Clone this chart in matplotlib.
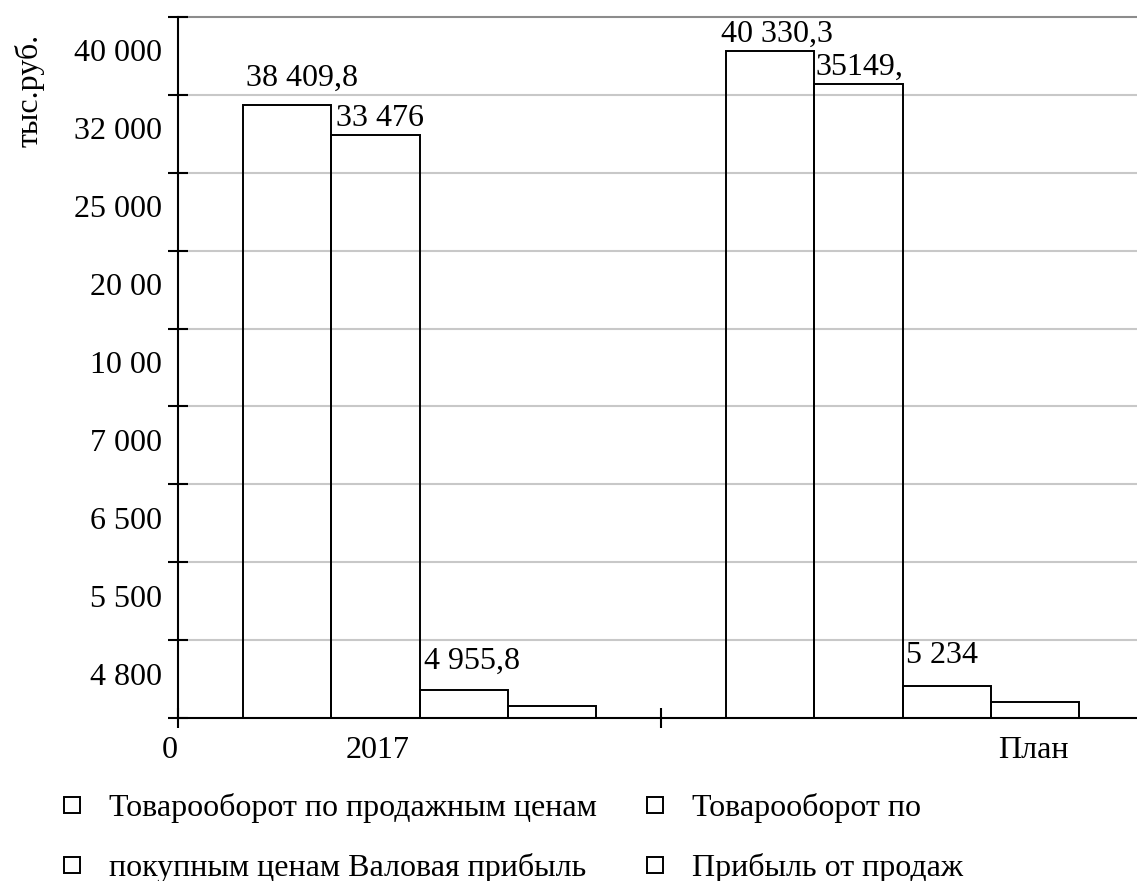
import matplotlib
matplotlib.use("Agg")
import matplotlib.pyplot as plt
from matplotlib.lines import Line2D
import numpy as np

plt.rcParams['font.family'] = ['Liberation Serif', 'DejaVu Serif']
plt.rcParams['font.size'] = 23

# ---- data ----
categories = ["2017", "План"]
series_names = [
    "Товарооборот по продажным ценам",
    "Товарооборот по",
    "покупным ценам Валовая прибыль",
    "Прибыль от продаж",
]
# bar heights in grid bands of the value axis (one band per axis label)
heights_2017 = [7.87, 7.48, 0.36, 0.154]
heights_plan = [8.56, 8.14, 0.41, 0.205]
value_labels_2017 = ["38 409,8", "33 476", "4 955,8", ""]
value_labels_plan = ["40 330,3", "35149,", "5 234", ""]
y_tick_labels = ["4 800", "5 500", "6 500", "7 000", "10 00",
                 "20 00", "25 000", "32 000", "40 000"]

# ---- layout helpers ----
PX = 72 / 100  # points per pixel at dpi=100
label_dx_px = [[3, 5, 4], [-5, 1, 4]]
label_dy_px = [[19, 9, 21], [9, 9, 23]]       # baseline above bar top
cat_label_dx_px = [-41.5, 130.5]

fig = plt.figure(figsize=(11.37, 8.81), dpi=100)
W, H = 1137, 881
ax = fig.add_axes([178 / W, 1 - 718 / H, 966 / W, 701 / H])

n_series = len(series_names)
bar_w = 0.1832
x = np.arange(len(categories))
heights = [heights_2017, heights_plan]
labels = [value_labels_2017, value_labels_plan]

for s in range(n_series):
    xs = x + (s - (n_series - 1) / 2) * bar_w
    ax.bar(xs, [heights[c][s] for c in range(len(categories))], width=bar_w,
           facecolor='none', edgecolor='black', linewidth=1.4, zorder=3)

for c in range(len(categories)):
    for s in range(n_series):
        txt = labels[c][s]
        if not txt:
            continue
        left = x[c] + (s - (n_series - 1) / 2) * bar_w - bar_w / 2
        ax.annotate(txt, xy=(left, heights[c][s]),
                    xytext=(label_dx_px[c][s] * PX, label_dy_px[c][s] * PX),
                    textcoords='offset points', ha='left', va='baseline')

n_bands = len(y_tick_labels)
ax.set_ylim(0, n_bands)
ax.set_xlim(-0.5, len(categories) - 0.5)

# grid
for yv in range(1, n_bands + 1):
    ax.axhline(yv, color='#8c8c8c' if yv == n_bands else '#c8c8c8',
               linewidth=1.5, zorder=1, clip_on=False)

# spines
for side in ('top', 'right'):
    ax.spines[side].set_visible(False)
for side in ('left', 'bottom'):
    ax.spines[side].set_linewidth(1.5)
    ax.spines[side].set_zorder(4)

# y ticks: major marks at band edges, labels inside each band
ax.set_yticks(np.arange(0, n_bands + 1))
ax.set_yticks(np.arange(n_bands) + 0.57, minor=True)
ax.set_yticklabels([''] * (n_bands + 1))
ax.set_yticklabels(y_tick_labels, minor=True)
ax.tick_params(axis='y', which='major', direction='inout', length=20 * PX,
               width=1.5)
ax.tick_params(axis='y', which='minor', length=0, pad=16 * PX)

# x ticks: marks at category boundaries
ax.set_xticks(np.arange(len(categories) + 1) - 0.5)
ax.set_xticklabels([''] * (len(categories) + 1))
ax.tick_params(axis='x', which='major', direction='inout', length=20 * PX,
               width=1.5)

# category and origin labels under the axis
for c, name in enumerate(categories):
    ax.annotate(name, xy=(x[c], 0), xytext=(cat_label_dx_px[c] * PX, -40 * PX),
                textcoords='offset points', ha='center', va='baseline')
ax.annotate("0", xy=(-0.5, 0), xytext=(-8 * PX, -40 * PX),
            textcoords='offset points', ha='center', va='baseline')

fig.text(30 / W, 1 - 90 / H, "тыс.руб.", rotation=90, ha='center', va='center')

# legend
handles = [Line2D([], [], linestyle='none', marker='s', markersize=11.5,
                  markerfacecolor='white', markeredgecolor='black',
                  markeredgewidth=1.4) for _ in series_names]
order = [0, 2, 1, 3]
fig.legend([handles[i] for i in order], [series_names[i] for i in order],
           ncol=2, loc='upper left', bbox_to_anchor=(59.2 / W, 1 - 793 / H),
           frameon=False, handlelength=0.8, handletextpad=0.756,
           columnspacing=1.41, labelspacing=0.94, borderpad=0, borderaxespad=0)

fig.savefig("out.png", dpi=100)
